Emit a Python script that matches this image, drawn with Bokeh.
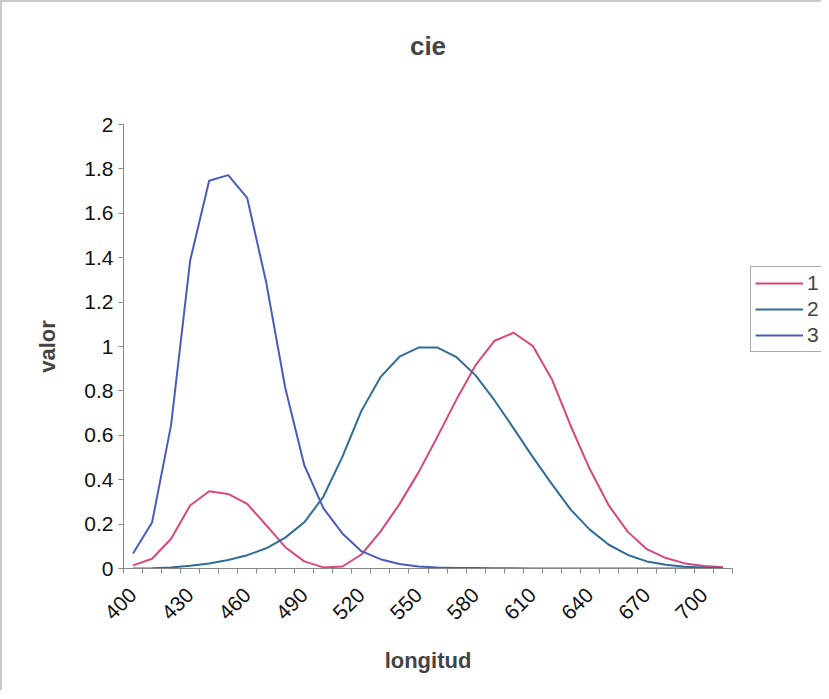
from bokeh.plotting import figure
from bokeh.layouts import row
from bokeh.models import (Range1d, FixedTicker, CustomJSTickFormatter, Legend, LegendItem, Title)
from bokeh.embed import file_html
from bokeh.resources import INLINE

wavelengths = [400, 410, 420, 430, 440, 450, 460, 470, 480, 490, 500, 510, 520, 530, 540, 550,
               560, 570, 580, 590, 600, 610, 620, 630, 640, 650, 660, 670, 680, 690, 700, 710]

serie_1 = [0.014, 0.044, 0.134, 0.284, 0.348, 0.336, 0.291, 0.195, 0.096, 0.032, 0.005, 0.009,
           0.063, 0.166, 0.290, 0.433, 0.595, 0.762, 0.916, 1.026, 1.062, 1.003, 0.854, 0.642,
           0.448, 0.284, 0.165, 0.087, 0.047, 0.023, 0.011, 0.006]
serie_2 = [0.000, 0.001, 0.004, 0.012, 0.023, 0.038, 0.060, 0.091, 0.139, 0.208, 0.323, 0.503,
           0.710, 0.862, 0.954, 0.995, 0.995, 0.952, 0.870, 0.757, 0.631, 0.503, 0.381, 0.265,
           0.175, 0.107, 0.061, 0.032, 0.017, 0.008, 0.004, 0.002]
serie_3 = [0.068, 0.207, 0.646, 1.386, 1.747, 1.772, 1.669, 1.288, 0.813, 0.465, 0.272, 0.158,
           0.078, 0.042, 0.020, 0.009, 0.004, 0.002, 0.002, 0.001, 0.001, 0.000, 0.000, 0.000,
           0.000, 0.000, 0.000, 0.000, 0.000, 0.000, 0.000, 0.000]

series_names = ["1", "2", "3"]
series_colors = ["#d9477e", "#2f6d99", "#4a5bbf"]
y_ticks = [0, 0.2, 0.4, 0.6, 0.8, 1.0, 1.2, 1.4, 1.6, 1.8, 2.0]

FONT = "Liberation Sans"
TICK_SIZE = "21px"
LABEL_SIZE = "22px"
BORDER = "2px solid #c8c8c8"

idx = list(range(len(wavelengths)))

p = figure(width=750, height=690, output_backend="svg", toolbar_location=None,
           x_range=Range1d(-0.5, len(wavelengths) - 0.5), y_range=Range1d(0, 2),
           min_border_left=121, min_border_right=20, min_border_top=122, min_border_bottom=124)
p.styles = {"border-left": BORDER, "border-top": BORDER}
p.outline_line_color = None
p.xgrid.visible = False
p.ygrid.visible = False

# spacer between frame and title (pushes the title upward)
p.add_layout(Title(text=" ", text_font_size="20px", standoff=36), "above")

p.title.text = "cie"
p.title.align = "center"
p.title.text_font = FONT
p.title.text_font_size = "26px"
p.title.text_font_style = "bold"
p.title.standoff = 8

for ys, c in zip([serie_1, serie_2, serie_3], series_colors):
    p.line(idx, ys, line_color=c, line_width=2)

# x axis (category style)
xa = p.xaxis[0]
xa.ticker = FixedTicker(ticks=[i for i in idx if i % 3 == 0],
                        minor_ticks=[i - 0.5 for i in range(len(wavelengths) + 1)])
xa.formatter = CustomJSTickFormatter(args=dict(labels=[str(w) for w in wavelengths]),
                                     code="return labels[Math.round(tick)];")
xa.major_tick_out = 0
xa.major_tick_in = 0
xa.minor_tick_out = 5
xa.minor_tick_in = 0
xa.major_label_orientation = 0.785398
xa.major_label_standoff = 18
xa.major_label_text_font = FONT
xa.major_label_text_font_size = TICK_SIZE
xa.major_label_text_color = "#111111"
xa.axis_line_color = "#888888"
xa.minor_tick_line_color = "#888888"
xa.axis_label = "longitud"
xa.axis_label_text_font = FONT
xa.axis_label_text_font_size = LABEL_SIZE
xa.axis_label_text_font_style = "bold"
xa.axis_label_standoff = 19

ya = p.yaxis[0]
ya.ticker = FixedTicker(ticks=y_ticks)
ya.formatter = CustomJSTickFormatter(code="return String(Math.round(tick*10)/10);")
ya.major_tick_out = 5
ya.major_tick_in = 0
ya.minor_tick_out = 0
ya.minor_tick_in = 0
ya.major_label_text_font = FONT
ya.major_label_text_font_size = TICK_SIZE
ya.major_label_text_color = "#111111"
ya.axis_line_color = "#888888"
ya.major_tick_line_color = "#888888"
ya.axis_label = "valor"
ya.axis_label_text_font = FONT
ya.axis_label_text_font_size = LABEL_SIZE
ya.axis_label_text_font_style = "bold"
ya.axis_label_standoff = 21

# legend in a side canvas (so it is not clipped by the main plot frame)
lp = figure(width=71, height=690, output_backend="svg", toolbar_location=None,
            x_range=Range1d(0, 1), y_range=Range1d(0, 1),
            min_border_left=0, min_border_right=0, min_border_top=0, min_border_bottom=0)
lp.styles = {"border-top": BORDER}
lp.axis.visible = False
lp.grid.visible = False
lp.outline_line_color = None
nan = float("nan")
key_renderers = [lp.line([nan], [nan], line_color=c, line_width=2) for c in series_colors]

legend = Legend(items=[LegendItem(label=n, renderers=[r]) for n, r in zip(series_names, key_renderers)],
                location=(0, 216))
legend.glyph_width = 48
legend.glyph_height = 22
legend.label_height = 22
legend.label_width = 10
legend.spacing = 2
legend.padding = 4
legend.margin = 0
legend.label_standoff = 4
legend.label_text_font = FONT
legend.label_text_font_size = TICK_SIZE
legend.border_line_color = "#555555"
legend.border_line_width = 1
legend.background_fill_alpha = 1
lp.add_layout(legend, "center")

layout = row(p, lp)
open("out.html", "w").write(file_html(layout, INLINE))
